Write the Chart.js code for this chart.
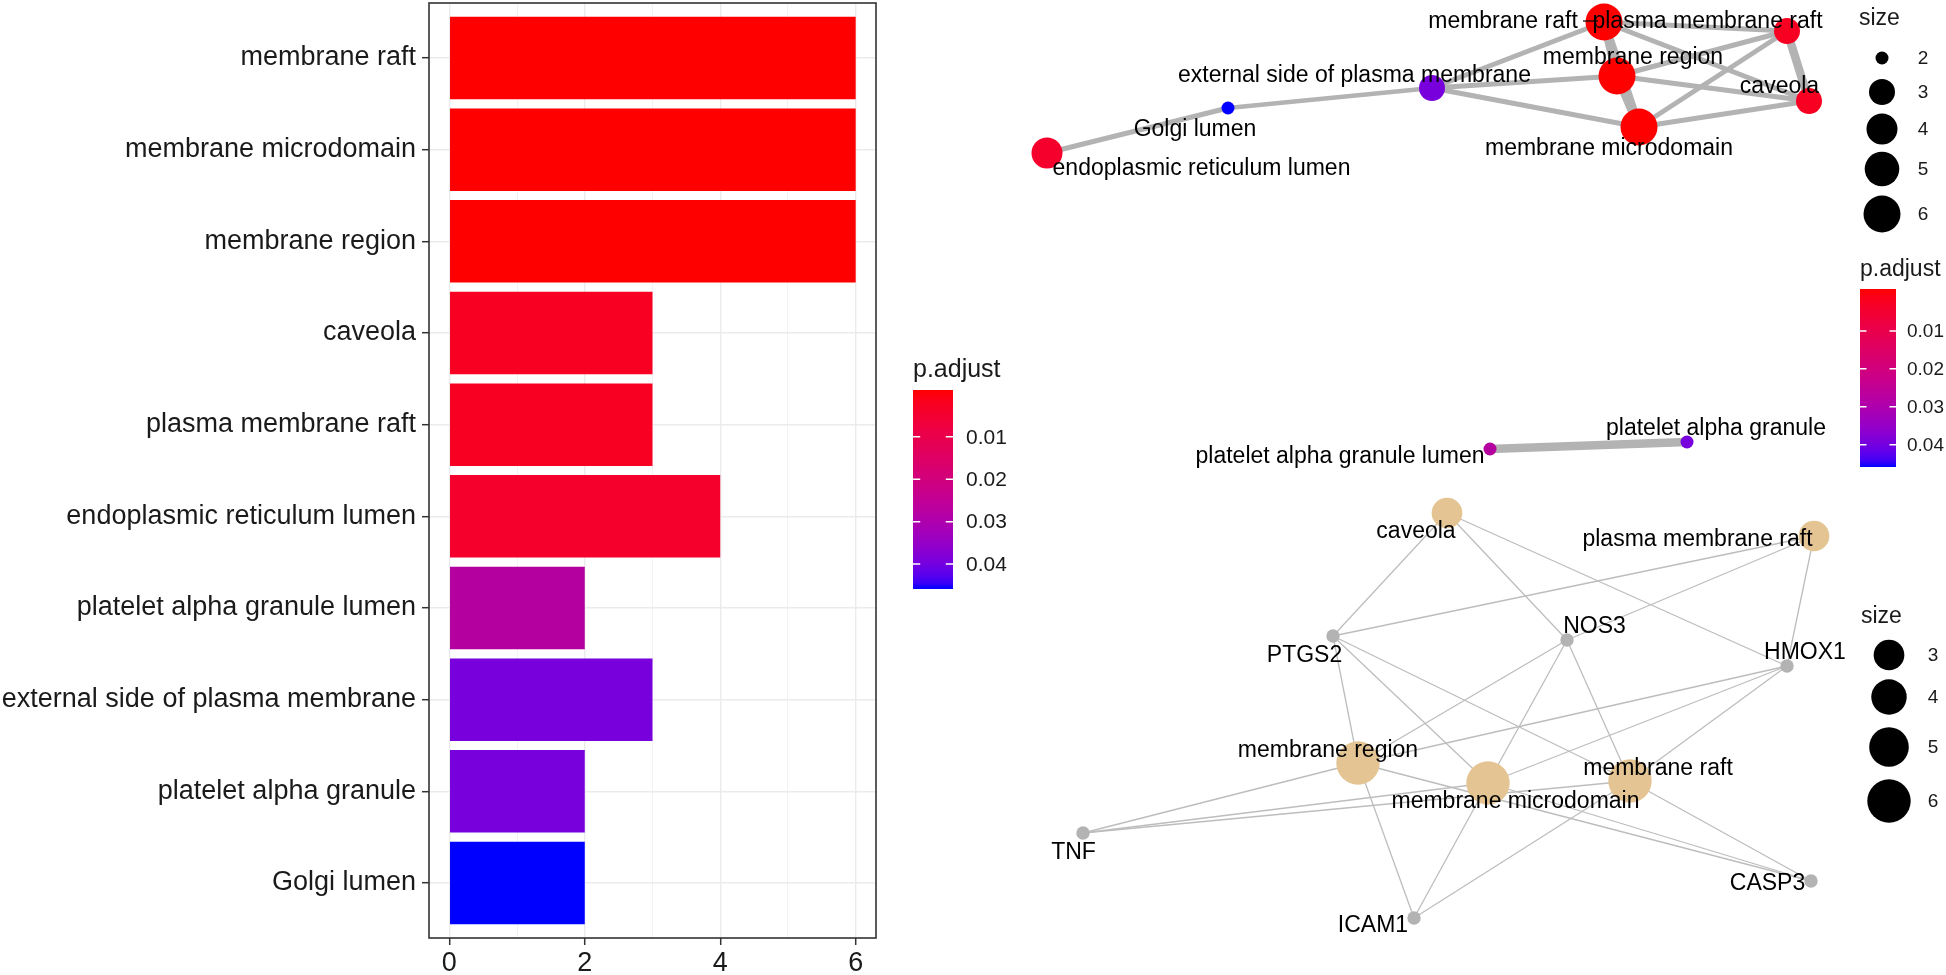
<!DOCTYPE html>
<html>
<head>
<meta charset="utf-8">
<script src="https://cdn.jsdelivr.net/npm/chart.js@4.4.1/dist/chart.umd.min.js"></script>
<style>
html,body{margin:0;padding:0;background:#ffffff;width:1946px;height:975px;overflow:hidden}
canvas{position:absolute;left:0;top:0}
</style>
</head>
<body>
<canvas id="bar" width="1946" height="975"></canvas>
<canvas id="net" width="1946" height="975"></canvas>
<script>
// ---------------- DATA ----------------
// Bar chart (GO cellular component enrichment)
const terms = ['membrane raft','membrane microdomain','membrane region','caveola','plasma membrane raft',
  'endoplasmic reticulum lumen','platelet alpha granule lumen','external side of plasma membrane',
  'platelet alpha granule','Golgi lumen'];
const geneCounts = [6,6,6,3,3,4,2,3,2,2];
const xTickValues = [0,2,4,6];

// p.adjust colour scale
const pAdjustLimits = [0.00012, 0.0447];
const pAdjustBreaks = [0.01,0.02,0.03,0.04];
const pAdjustBreakLabels = ['0.01','0.02','0.03','0.04'];

// Enrichment map (emapplot) network
const emapTerms = ['membrane raft','plasma membrane raft','membrane region','caveola','membrane microdomain',
  'external side of plasma membrane','Golgi lumen','endoplasmic reticulum lumen',
  'platelet alpha granule lumen','platelet alpha granule'];
const emapX = [1604,1787,1617,1809,1639,1432,1228,1047,1490,1687];
const emapY = [22,31,76,101,127,88,108,153,449,442];
const emapSize = [6,3,6,3,6,3,2,4,2,2];
const emapEdgeFrom = [7,6,5,5,5,0,0,0,0,2,2,2,4,4,1,8];
const emapEdgeTo   = [6,5,0,2,4,1,2,4,3,1,3,4,1,3,3,9];
const emapEdgeSim  = [0.5,0.4,0.5,0.5,0.5,0.5,1,1,0.5,0.5,0.5,1,0.5,0.5,1,1];
const emapLegendSizes = [2,3,4,5,6];

// Gene-concept network (cnetplot)
const cnetTerms = ['caveola','plasma membrane raft','membrane region','membrane microdomain','membrane raft'];
const cnetTermX = [1447,1814,1358,1488,1630];
const cnetTermY = [513,536,763,783,781];
const cnetTermSize = [3,3,6,6,6];
const cnetGenes = ['PTGS2','NOS3','HMOX1','TNF','ICAM1','CASP3'];
const cnetGeneX = [1333,1567,1787,1083,1414,1811];
const cnetGeneY = [636,640,666,833,918,881];
const cnetTermGenes = [
  ['PTGS2','NOS3','HMOX1'],
  ['PTGS2','NOS3','HMOX1'],
  ['PTGS2','NOS3','HMOX1','TNF','ICAM1','CASP3'],
  ['PTGS2','NOS3','HMOX1','TNF','ICAM1','CASP3'],
  ['PTGS2','NOS3','HMOX1','TNF','ICAM1','CASP3']
];
const cnetLegendSizes = [3,4,5,6];

// ---------------- STYLE ----------------
const FONT = "'Liberation Sans', Arial, Helvetica, sans-serif";
const TEXT = '#1a1a1a';
const termColors = {
  'membrane raft':'#FF0000','membrane microdomain':'#FF0000','membrane region':'#FF0000',
  'caveola':'#F80022','plasma membrane raft':'#F80022','endoplasmic reticulum lumen':'#F5002C',
  'platelet alpha granule lumen':'#B4009E','external side of plasma membrane':'#7800DC',
  'platelet alpha granule':'#7700DD','Golgi lumen':'#0000FF'
};
const emapLabelOffsets = [[-101,6],[-79.5,-3],[16,-12],[-29.5,-8],[-30,28],[-77.5,-6],[-33,28],[154.5,22],[-150,14],[29,-7]];
const cnetTermLabelOffsets = [[-31,25],[-116.5,10],[-30,-6],[27.5,25],[28,-6]];
const cnetGeneLabelOffsets = [[-28.5,26],[27.5,-7],[18,-7],[-9.5,26],[-41,14],[-43.5,9]];
const emapRadius = {2:6.5,3:13,4:15.5,5:17.3,6:18.5};
const cnetRadius = s => 8.86*Math.sqrt(s);

// ---- Lab colour interpolation (red -> blue) ----
function toLin(c){c/=255;return c<=0.04045?c/12.92:Math.pow((c+0.055)/1.055,2.4);}
function toS(c){const v=c<=0.0031308?12.92*c:1.055*Math.pow(c,1/2.4)-0.055;return Math.round(Math.max(0,Math.min(1,v))*255);}
function rgb2lab(r,g,b){r=toLin(r);g=toLin(g);b=toLin(b);
  const X=(0.4124*r+0.3576*g+0.1805*b)/0.95047,Y=0.2126*r+0.7152*g+0.0722*b,Z=(0.0193*r+0.1192*g+0.9505*b)/1.08883;
  const f=t=>t>0.008856?Math.cbrt(t):7.787*t+16/116;
  return [116*f(Y)-16,500*(f(X)-f(Y)),200*(f(Y)-f(Z))];}
function lab2rgb(L,a,b){const fy=(L+16)/116,fx=fy+a/500,fz=fy-b/200;
  const fi=t=>t*t*t>0.008856?t*t*t:(t-16/116)/7.787;
  const X=fi(fx)*0.95047,Y=fi(fy),Z=fi(fz)*1.08883;
  return 'rgb('+toS(3.2406*X-1.5372*Y-0.4986*Z)+','+toS(-0.9689*X+1.8758*Y+0.0415*Z)+','+toS(0.0557*X-0.2040*Y+1.0570*Z)+')';}
const LAB_LO = rgb2lab(255,0,0), LAB_HI = rgb2lab(0,0,255);
function rampColor(t){return lab2rgb(LAB_LO[0]+(LAB_HI[0]-LAB_LO[0])*t,LAB_LO[1]+(LAB_HI[1]-LAB_LO[1])*t,LAB_LO[2]+(LAB_HI[2]-LAB_LO[2])*t);}
function breakFrac(v){return 0.025+0.95*(v-pAdjustLimits[0])/(pAdjustLimits[1]-pAdjustLimits[0]);}

function drawColorbar(ctx,x,y,w,h,titleSize,labelSize,titleY,labelX){
  ctx.save();
  ctx.fillStyle=TEXT;ctx.font=titleSize+'px '+FONT;ctx.textAlign='left';ctx.textBaseline='alphabetic';
  ctx.fillText('p.adjust',x,titleY);
  const g=ctx.createLinearGradient(0,y,0,y+h);
  for(let i=0;i<=30;i++){g.addColorStop(i/30,rampColor(i/30));}
  ctx.fillStyle=g;ctx.fillRect(x,y,w,h);
  ctx.strokeStyle='#ffffff';ctx.lineWidth=1.5;
  ctx.font=labelSize+'px '+FONT;ctx.fillStyle=TEXT;ctx.textBaseline='middle';
  pAdjustBreaks.forEach((v,i)=>{
    const yy=y+h*breakFrac(v);
    ctx.beginPath();ctx.moveTo(x,yy);ctx.lineTo(x+w*0.18,yy);ctx.moveTo(x+w*0.82,yy);ctx.lineTo(x+w,yy);ctx.stroke();
    ctx.fillText(pAdjustBreakLabels[i],labelX,yy+1);
  });
  ctx.restore();
}

// ---------------- BAR CHART ----------------
const framePlugin = {
  id:'frame',
  afterDatasetsDraw(chart){
    const a=chart.chartArea,ctx=chart.ctx;
    ctx.save();ctx.strokeStyle='#333333';ctx.lineWidth=1.6;
    ctx.strokeRect(a.left,a.top,a.right-a.left,a.bottom-a.top);ctx.restore();
  },
  afterDraw(chart){
    drawColorbar(chart.ctx,913,390,40,199,25,21,377,966);
  }
};

new Chart(document.getElementById('bar'),{
  type:'bar',
  data:{labels:terms,datasets:[{data:geneCounts,backgroundColor:terms.map(t=>termColors[t]),borderWidth:0,barPercentage:0.9,categoryPercentage:1.0}]},
  options:{
    indexAxis:'y',responsive:false,animation:false,devicePixelRatio:1,
    layout:{autoPadding:false,padding:{top:3,right:1946-876,bottom:0,left:0}},
    plugins:{legend:{display:false},tooltip:{enabled:false}},
    scales:{
      x:{type:'linear',position:'bottom',min:-0.3,max:6.3,
        afterFit:s=>{s.height=37;s.paddingLeft=0;s.paddingRight=0;},
        ticks:{stepSize:1,includeBounds:false,autoSkip:false,maxRotation:0,padding:2,color:TEXT,font:{family:FONT,size:27},
          callback:v=>(xTickValues.includes(v)?String(v):'')},
        grid:{color:c=>(c.tick&&xTickValues.includes(c.tick.value))?'#EBEBEB':'#F2F2F2',
          lineWidth:c=>(c.tick&&xTickValues.includes(c.tick.value))?1.4:1,
          tickColor:c=>(c.tick&&xTickValues.includes(c.tick.value))?'#333333':'rgba(0,0,0,0)',
          tickLength:7,tickWidth:1.5,drawTicks:true},
        border:{display:false}},
      y:{type:'category',offset:true,
        afterBuildTicks:s=>{s._startValue=-0.6;s._valueRange=terms.length+0.2;},
        afterFit:s=>{s.width=429;s.paddingTop=0;s.paddingBottom=0;},
        ticks:{padding:6,color:TEXT,font:{family:FONT,size:27},autoSkip:false},
        grid:{offset:false,color:'#EBEBEB',lineWidth:1.4,tickColor:'#333333',tickLength:7,tickWidth:1.5},
        border:{display:false}}
    }
  },
  plugins:[framePlugin]
});

// ---------------- NETWORKS ----------------
const datasets=[];
// emap edges
emapEdgeFrom.forEach((f,i)=>{
  const t=emapEdgeTo[i];
  datasets.push({type:'scatter',showLine:true,order:3,
    data:[{x:emapX[f],y:emapY[f]},{x:emapX[t],y:emapY[t]}],
    borderColor:'#B3B3B3',borderWidth:1.5+7*emapEdgeSim[i],pointRadius:0,borderCapStyle:'butt'});
});
// cnet edges
cnetTerms.forEach((term,ti)=>{
  cnetTermGenes[ti].forEach(g=>{
    const gi=cnetGenes.indexOf(g);
    datasets.push({type:'scatter',showLine:true,order:2,
      data:[{x:cnetTermX[ti],y:cnetTermY[ti]},{x:cnetGeneX[gi],y:cnetGeneY[gi]}],
      borderColor:'#BDBDBD',borderWidth:1.3,pointRadius:0});
  });
});
// emap nodes
datasets.push({type:'scatter',order:1,
  data:emapTerms.map((t,i)=>({x:emapX[i],y:emapY[i]})),
  pointRadius:emapSize.map(s=>emapRadius[s]),
  pointBackgroundColor:emapTerms.map(t=>termColors[t]),pointBorderWidth:0,pointHoverRadius:emapSize.map(s=>emapRadius[s])});
// cnet nodes
datasets.push({type:'scatter',order:1,
  data:cnetTerms.map((t,i)=>({x:cnetTermX[i],y:cnetTermY[i]})),
  pointRadius:cnetTermSize.map(cnetRadius),pointBackgroundColor:'#E5C494',pointBorderWidth:0});
datasets.push({type:'scatter',order:1,
  data:cnetGenes.map((g,i)=>({x:cnetGeneX[i],y:cnetGeneY[i]})),
  pointRadius:6.7,pointBackgroundColor:'#B3B3B3',pointBorderWidth:0});

const netPlugin={
  id:'netLabels',
  afterDatasetsDraw(chart){
    const ctx=chart.ctx,xs=chart.scales.x,ys=chart.scales.y;
    ctx.save();
    ctx.fillStyle='#000000';ctx.font='23px '+FONT;ctx.textAlign='center';ctx.textBaseline='alphabetic';
    const put=(txt,x,y,o)=>ctx.fillText(txt,xs.getPixelForValue(x)+o[0],ys.getPixelForValue(y)+o[1]);
    emapTerms.forEach((t,i)=>put(t,emapX[i],emapY[i],emapLabelOffsets[i]));
    cnetTerms.forEach((t,i)=>put(t,cnetTermX[i],cnetTermY[i],cnetTermLabelOffsets[i]));
    cnetGenes.forEach((g,i)=>put(g,cnetGeneX[i],cnetGeneY[i],cnetGeneLabelOffsets[i]));
    // repel segment for 'membrane raft'
    const px=xs.getPixelForValue(emapX[0]),py=ys.getPixelForValue(emapY[0]);
    ctx.strokeStyle='#000000';ctx.lineWidth=1.2;ctx.beginPath();ctx.moveTo(px-21,py-1);ctx.lineTo(px-6,py-1);ctx.stroke();
    ctx.restore();
  },
  afterDraw(chart){
    const ctx=chart.ctx;
    ctx.save();
    ctx.fillStyle=TEXT;
    // size legend (emap)
    ctx.font='23px '+FONT;ctx.textAlign='left';ctx.textBaseline='alphabetic';
    ctx.fillText('size',1859,25);
    const ey=[58,92,129,169,214];
    emapLegendSizes.forEach((s,i)=>{
      ctx.fillStyle='#000000';ctx.beginPath();ctx.arc(1882,ey[i],emapRadius[s],0,Math.PI*2);ctx.fill();
      ctx.fillStyle=TEXT;ctx.font='19px '+FONT;ctx.textAlign='center';ctx.textBaseline='middle';
      ctx.fillText(String(s),1923,ey[i]+1);
    });
    // size legend (cnet)
    ctx.font='23px '+FONT;ctx.textAlign='left';ctx.textBaseline='alphabetic';ctx.fillStyle=TEXT;
    ctx.fillText('size',1861,623);
    const cy=[655,697,747,801];
    cnetLegendSizes.forEach((s,i)=>{
      ctx.fillStyle='#000000';ctx.beginPath();ctx.arc(1889,cy[i],cnetRadius(s),0,Math.PI*2);ctx.fill();
      ctx.fillStyle=TEXT;ctx.font='19px '+FONT;ctx.textAlign='center';ctx.textBaseline='middle';
      ctx.fillText(String(s),1933,cy[i]+1);
    });
    ctx.restore();
    drawColorbar(ctx,1860,289,36,178,23,19,276,1907);
  }
};

new Chart(document.getElementById('net'),{
  type:'scatter',
  data:{datasets},
  options:{responsive:false,animation:false,devicePixelRatio:1,layout:{autoPadding:false,padding:0},
    events:[],
    plugins:{legend:{display:false},tooltip:{enabled:false}},
    scales:{x:{type:'linear',display:false,min:0,max:1946},y:{type:'linear',display:false,min:0,max:975,reverse:true}}},
  plugins:[netPlugin]
});
</script>
</body>
</html>
